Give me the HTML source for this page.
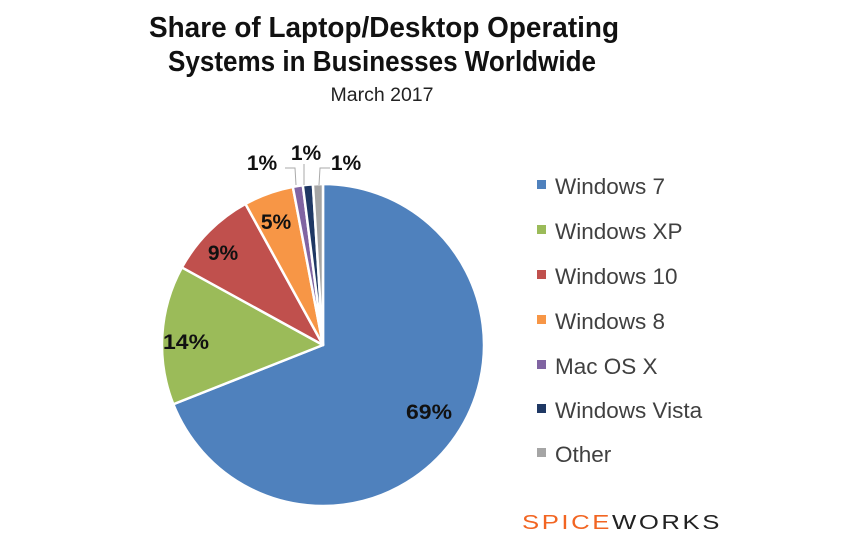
<!DOCTYPE html>
<html><head><meta charset="utf-8"><style>
body{margin:0;width:850px;height:537px;background:#fff;overflow:hidden;font-family:"Liberation Sans",sans-serif;}
svg{position:absolute;left:0;top:0}
</style></head><body>
<svg id="s" width="850" height="537" xmlns="http://www.w3.org/2000/svg">
<text x="384" y="37" text-anchor="middle" font-size="29" font-weight="bold" fill="#111" textLength="470" lengthAdjust="spacingAndGlyphs">Share of Laptop/Desktop Operating</text>
<text x="382" y="71" text-anchor="middle" font-size="29" font-weight="bold" fill="#111" textLength="428" lengthAdjust="spacingAndGlyphs">Systems in Businesses Worldwide</text>
<text x="382" y="101" text-anchor="middle" font-size="19" fill="#222" textLength="103" lengthAdjust="spacingAndGlyphs">March 2017</text>
<g id="pie"></g>
<g font-size="21" font-weight="bold" fill="#111">
<text x="429" y="419" text-anchor="middle" textLength="46" lengthAdjust="spacingAndGlyphs">69%</text>
<text x="186" y="349" text-anchor="middle" textLength="46" lengthAdjust="spacingAndGlyphs">14%</text>
<text x="223" y="260" text-anchor="middle">9%</text>
<text x="276" y="229" text-anchor="middle">5%</text>
<text x="262" y="170" text-anchor="middle">1%</text>
<text x="306" y="160" text-anchor="middle">1%</text>
<text x="346" y="170" text-anchor="middle">1%</text>
</g>
<g stroke="#aaa" stroke-width="1" fill="none">
<polyline points="285,168 295,168 296,185"/>
<polyline points="304,164 304,185"/>
<polyline points="330,168 320,168 319,185"/>
</g>
<g font-size="22.5" fill="#404040">
<rect x="537" y="180" width="9" height="9" fill="#4f81bd"/><text x="555" y="194">Windows 7</text>
<rect x="537" y="225" width="9" height="9" fill="#9bbb59"/><text x="555" y="239">Windows XP</text>
<rect x="537" y="270" width="9" height="9" fill="#c0504d"/><text x="555" y="284">Windows 10</text>
<rect x="537" y="315" width="9" height="9" fill="#f79646"/><text x="555" y="329">Windows 8</text>
<rect x="537" y="360" width="9" height="9" fill="#8064a2"/><text x="555" y="374">Mac OS X</text>
<rect x="537" y="404" width="9" height="9" fill="#1f3864"/><text x="555" y="418">Windows Vista</text>
<rect x="537" y="448" width="9" height="9" fill="#a5a5a5"/><text x="555" y="462">Other</text>
</g>
<text x="622" y="529" text-anchor="middle" font-size="20" fill="#f26522" letter-spacing="2" textLength="200" lengthAdjust="spacingAndGlyphs">SPICE<tspan fill="#222">WORKS</tspan></text>
</svg>
<script>
var cx=323,cy=345,r=161,vals=[69,14,9,5,1,1,1],cols=["#4f81bd","#9bbb59","#c0504d","#f79646","#8064a2","#1f3864","#a5a5a5"],a=0,h="";
for(var i=0;i<vals.length;i++){var a2=a+vals[i]/100*2*Math.PI;
var x1=cx+r*Math.sin(a),y1=cy-r*Math.cos(a),x2=cx+r*Math.sin(a2),y2=cy-r*Math.cos(a2);
h+='<path d="M'+cx+','+cy+'L'+x1+','+y1+'A'+r+','+r+' 0 '+(a2-a>Math.PI?1:0)+' 1 '+x2+','+y2+'Z" fill="'+cols[i]+'" stroke="#fff" stroke-width="2.5" stroke-linejoin="round"/>';a=a2;}
document.getElementById("pie").innerHTML=h;
</script>
</body></html>
